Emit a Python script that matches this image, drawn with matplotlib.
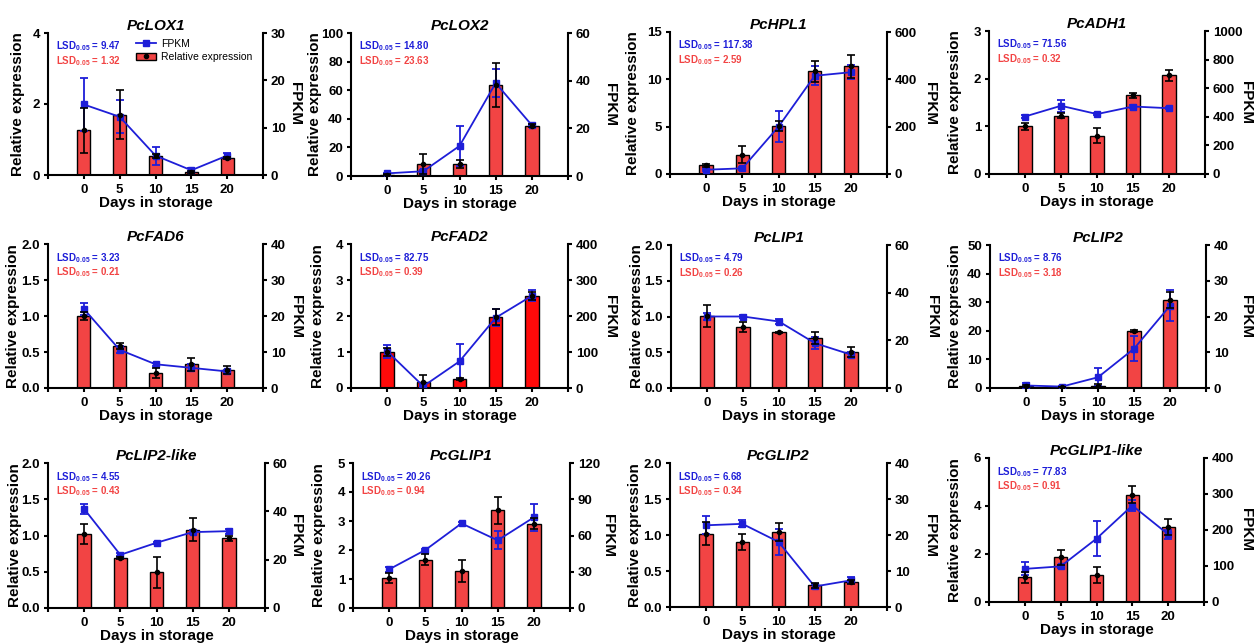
import matplotlib
matplotlib.use("Agg")
import matplotlib.pyplot as plt
from matplotlib.patches import Patch
from matplotlib.lines import Line2D

plt.rcParams['font.family'] = ['Liberation Sans', 'DejaVu Sans']
plt.rcParams['font.weight'] = 'bold'
plt.rcParams['mathtext.fontset'] = 'custom'
plt.rcParams['mathtext.bf'] = 'Liberation Sans:bold'
plt.rcParams['mathtext.rm'] = 'Liberation Sans:bold'

days = [0, 5, 10, 15, 20]
genes = ['PcLOX1', 'PcLOX2', 'PcHPL1', 'PcADH1', 'PcFAD6', 'PcFAD2',
         'PcLIP1', 'PcLIP2', 'PcLIP2-like', 'PcGLIP1', 'PcGLIP2', 'PcGLIP1-like']

# Relative expression (bars) and its SD
rel_LOX1 = [1.26, 1.70, 0.53, 0.09, 0.49]
rel_sd_LOX1 = [0.64, 0.69, 0.06, 0.03, 0.03]
rel_LOX2 = [1.0, 8.6, 8.6, 63.5, 35.3]
rel_sd_LOX2 = [0.3, 7.0, 2.8, 15.5, 0.8]
rel_HPL1 = [0.91, 2.05, 5.08, 10.87, 11.39]
rel_sd_HPL1 = [0.15, 0.9, 0.55, 1.1, 1.2]
rel_ADH1 = [1.00, 1.22, 0.80, 1.65, 2.07]
rel_sd_ADH1 = [0.07, 0.05, 0.16, 0.05, 0.11]
rel_FAD6 = [1.00, 0.58, 0.21, 0.33, 0.25]
rel_sd_FAD6 = [0.05, 0.04, 0.07, 0.09, 0.06]
rel_FAD2 = [1.00, 0.16, 0.25, 1.97, 2.56]
rel_sd_FAD2 = [0.12, 0.19, 0.03, 0.22, 0.12]
rel_LIP1 = [1.01, 0.85, 0.78, 0.70, 0.51]
rel_sd_LIP1 = [0.15, 0.07, 0.01, 0.08, 0.07]
rel_LIP2 = [0.8, 0.35, 0.8, 20.0, 30.9]
rel_sd_LIP2 = [0.4, 0.1, 0.5, 0.4, 2.8]
rel_LIP2like = [1.02, 0.69, 0.49, 1.08, 0.96]
rel_sd_LIP2like = [0.14, 0.01, 0.22, 0.16, 0.03]
rel_GLIP1 = [1.02, 1.67, 1.27, 3.37, 2.91]
rel_sd_GLIP1 = [0.17, 0.20, 0.37, 0.46, 0.20]
rel_GLIP2 = [1.02, 0.90, 1.04, 0.30, 0.35]
rel_sd_GLIP2 = [0.16, 0.11, 0.13, 0.04, 0.03]
rel_GLIP1like = [1.03, 1.86, 1.14, 4.47, 3.13]
rel_sd_GLIP1like = [0.22, 0.30, 0.33, 0.35, 0.33]

# FPKM (line) and its SD
fpkm_LOX1 = [14.9, 12.3, 4.1, 1.0, 4.1]
fpkm_sd_LOX1 = [5.5, 3.5, 1.9, 0.4, 0.5]
fpkm_LOX2 = [1.1, 2.0, 12.6, 39.0, 21.3]
fpkm_sd_LOX2 = [0.3, 0.6, 8.5, 6.0, 0.5]
fpkm_HPL1 = [18, 24, 200, 415, 430]
fpkm_sd_HPL1 = [5, 5, 66, 40, 30]
fpkm_ADH1 = [402, 477, 419, 472, 460]
fpkm_sd_ADH1 = [8, 40, 8, 8, 6]
fpkm_FAD6 = [22.0, 10.6, 6.6, 5.6, 4.6]
fpkm_sd_FAD6 = [1.6, 1.0, 0.4, 1.0, 0.5]
fpkm_FAD2 = [102, 5, 74, 195, 256]
fpkm_sd_FAD2 = [18, 3, 48, 24, 15]
fpkm_LIP1 = [30.0, 30.0, 27.9, 18.8, 14.0]
fpkm_sd_LIP1 = [1.5, 0.8, 1.0, 2.5, 1.0]
fpkm_LIP2 = [0.7, 0.4, 3.0, 11.0, 23.0]
fpkm_sd_LIP2 = [0.6, 0.2, 2.5, 3.5, 4.3]
fpkm_LIP2like = [41.0, 22.0, 27.0, 31.4, 31.8]
fpkm_sd_LIP2like = [1.9, 0.6, 0.5, 0.8, 1.0]
fpkm_GLIP1 = [32, 48, 70, 56, 75]
fpkm_sd_GLIP1 = [2, 1, 1, 7.5, 11]
fpkm_GLIP2 = [22.7, 23.1, 18.1, 5.7, 7.4]
fpkm_sd_GLIP2 = [2.5, 1.0, 3.6, 0.8, 0.8]
fpkm_GLIP1like = [92, 99, 176, 268, 188]
fpkm_sd_GLIP1like = [18, 5, 48, 16, 12]

lsd_fpkm = ['9.47', '14.80', '117.38', '71.56', '3.23', '82.75',
            '4.79', '8.76', '4.55', '20.26', '6.68', '77.83']
lsd_rel = ['1.32', '23.63', '2.59', '0.32', '0.21', '0.39',
           '0.26', '3.18', '0.43', '0.94', '0.34', '0.91']

left_ticks = [[0, 2, 4], [0, 20, 40, 60, 80, 100], [0, 5, 10, 15], [0, 1, 2, 3],
              [0.0, 0.5, 1.0, 1.5, 2.0], [0, 1, 2, 3, 4], [0.0, 0.5, 1.0, 1.5, 2.0],
              [0, 10, 20, 30, 40, 50], [0.0, 0.5, 1.0, 1.5, 2.0], [0, 1, 2, 3, 4, 5],
              [0.0, 0.5, 1.0, 1.5, 2.0], [0, 2, 4, 6]]
right_ticks = [[0, 10, 20, 30], [0, 20, 40, 60], [0, 200, 400, 600],
               [0, 200, 400, 600, 800, 1000], [0, 10, 20, 30, 40], [0, 100, 200, 300, 400],
               [0, 20, 40, 60], [0, 10, 20, 30, 40], [0, 20, 40, 60],
               [0, 30, 60, 90, 120], [0, 10, 20, 30, 40], [0, 100, 200, 300, 400]]

rels = [rel_LOX1, rel_LOX2, rel_HPL1, rel_ADH1, rel_FAD6, rel_FAD2,
        rel_LIP1, rel_LIP2, rel_LIP2like, rel_GLIP1, rel_GLIP2, rel_GLIP1like]
rel_sds = [rel_sd_LOX1, rel_sd_LOX2, rel_sd_HPL1, rel_sd_ADH1, rel_sd_FAD6, rel_sd_FAD2,
           rel_sd_LIP1, rel_sd_LIP2, rel_sd_LIP2like, rel_sd_GLIP1, rel_sd_GLIP2, rel_sd_GLIP1like]
fpkms = [fpkm_LOX1, fpkm_LOX2, fpkm_HPL1, fpkm_ADH1, fpkm_FAD6, fpkm_FAD2,
         fpkm_LIP1, fpkm_LIP2, fpkm_LIP2like, fpkm_GLIP1, fpkm_GLIP2, fpkm_GLIP1like]
fpkm_sds = [fpkm_sd_LOX1, fpkm_sd_LOX2, fpkm_sd_HPL1, fpkm_sd_ADH1, fpkm_sd_FAD6, fpkm_sd_FAD2,
            fpkm_sd_LIP1, fpkm_sd_LIP2, fpkm_sd_LIP2like, fpkm_sd_GLIP1, fpkm_sd_GLIP2, fpkm_sd_GLIP1like]

# axes boxes in pixels: left, right, top, bottom
W, H = 1255, 644
boxes = [(48, 263, 33, 175), (351, 568, 33, 176), (670, 887, 32, 174), (989, 1205, 31, 174),
         (48, 263, 244, 388), (351, 568, 244, 388), (671, 887, 245, 388), (990, 1206, 245, 388),
         (48, 265, 463, 608), (353, 570, 463, 608), (670, 887, 463, 607), (989, 1204, 458, 602)]
# label centre offsets from the axis lines (px)
left_lab_off = [30, 36, 37, 34, 35, 33, 34, 35, 33, 34, 35, 34]
right_lab_off = [32, 42, 43, 41, 33, 42, 45, 40, 31, 38, 43, 42]

BLUE = '#1E1ED8'
RED = '#F24444'
RED_PURE = '#FF0A0A'
LW = 1.5

fig = plt.figure(figsize=(W / 100, H / 100), dpi=100)

for i, g in enumerate(genes):
    l, r, t, b = boxes[i]
    wpx, hpx = r - l, b - t
    rect = [l / W, 1 - b / H, wpx / W, hpx / H]
    ax = fig.add_axes(rect)
    ax2 = ax.twinx()
    ax3 = fig.add_axes(rect, sharex=ax, sharey=ax, label='err%d' % i)
    ax3.set_axis_off()

    barc = RED_PURE if g == 'PcFAD2' else RED
    ax.bar(days, rels[i], width=1.85, color=barc, edgecolor='black', linewidth=1.0, zorder=2)
    ax2.errorbar(days, fpkms[i], yerr=fpkm_sds[i], fmt='-s', color=BLUE, ms=5, lw=1.3,
                 elinewidth=1.3, capsize=3, capthick=1.3, zorder=3)
    ax3.errorbar(days, rels[i], yerr=rel_sds[i], fmt='o', color='black', ms=3,
                 elinewidth=1.2, capsize=3, capthick=1.2, zorder=4)

    ax.set_xlim(-5, 25)
    lt = left_ticks[i]
    rt = right_ticks[i]
    ax.set_ylim(lt[0], lt[-1])
    ax2.set_ylim(rt[0], rt[-1])
    ax.set_yticks(lt)
    if isinstance(lt[1], float):
        ax.set_yticklabels(['%.1f' % v for v in lt])
    ax2.set_yticks(rt)
    ax.set_xticks([-5] + days + [25])
    ax.set_xticklabels([''] + [str(d) for d in days] + [''])

    for a in (ax, ax2):
        a.spines['top'].set_visible(False)
        for s in a.spines.values():
            s.set_linewidth(LW)
        a.tick_params(direction='out', length=3.2, width=LW, labelsize=9.5)
    ax2.spines['left'].set_visible(False)
    ax2.spines['bottom'].set_visible(False)
    ax.spines['right'].set_visible(False)
    ax.tick_params(axis='y', pad=2.5)
    ax2.tick_params(axis='y', pad=2.5)
    ax.tick_params(axis='x', pad=3.0)
    for lab in ax.get_xticklabels() + ax.get_yticklabels() + ax2.get_yticklabels():
        lab.set_fontweight('bold')

    ax.set_title(g, fontsize=11, fontweight='bold', style='italic', pad=2)
    ax.set_xlabel('Days in storage', fontsize=11, fontweight='bold', labelpad=0.5)
    ax.set_ylabel('Relative expression', fontsize=11, fontweight='bold', va='center')
    ax.yaxis.set_label_coords(-left_lab_off[i] / wpx, 0.5)
    ax2.set_ylabel('FPKM', fontsize=11, fontweight='bold', rotation=270, va='center')
    ax2.yaxis.set_label_coords(1 + right_lab_off[i] / wpx, 0.5)

    ax.text(0.035, 0.905, r'LSD$_{\mathbf{0.05}}$ = ' + lsd_fpkm[i], transform=ax.transAxes,
            color=BLUE, fontsize=7, fontweight='bold', va='center', ha='left')
    ax.text(0.035, 0.805, r'LSD$_{\mathbf{0.05}}$ = ' + lsd_rel[i], transform=ax.transAxes,
            color=RED, fontsize=7, fontweight='bold', va='center', ha='left')

    if i == 0:
        h1 = Line2D([], [], color=BLUE, marker='s', ms=5, lw=1.3)
        h2 = (Patch(facecolor=RED, edgecolor='black', linewidth=1.0),
              Line2D([], [], color='black', marker='o', ms=3, lw=0))
        ax2.legend([h1, h2], ['FPKM', 'Relative expression'], loc='upper left',
                   bbox_to_anchor=(0.41, 0.96), frameon=False,
                   handlelength=1.9, handletextpad=0.5, labelspacing=0.3,
                   borderpad=0, borderaxespad=0, prop={'weight': 'normal', 'size': 7.5})

fig.savefig('out.png', dpi=100)
